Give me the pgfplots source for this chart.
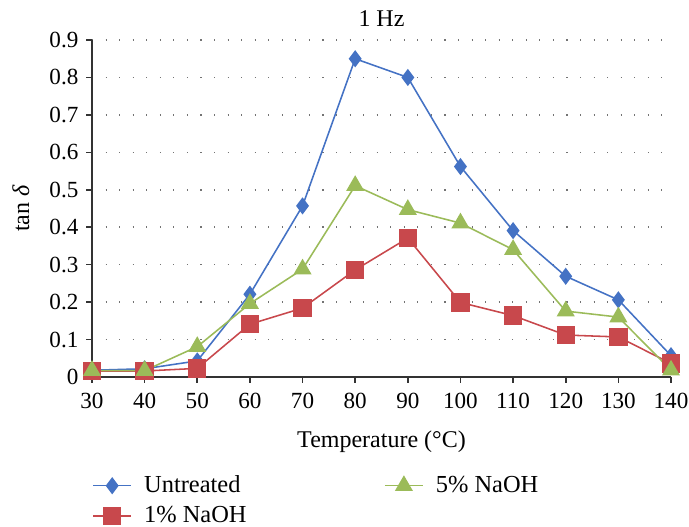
\documentclass[border=0pt]{standalone}
\usepackage{fontspec}
\setmainfont{Liberation Serif}
\usepackage{pgfplots}
\pgfplotsset{compat=1.18}
\definecolor{cBlue}{HTML}{4472C4}
\definecolor{cRed}{HTML}{C8484C}
\definecolor{cGreen}{HTML}{9BBB59}
\begin{document}
\begin{tikzpicture}[x=1pt,y=1pt]
\path[use as bounding box] (-41.4,-67.5) rectangle (268.65,169.65);
\begin{axis}[
  at={(0,0)}, anchor=south west,
  scale only axis, width=260.55pt, height=151.65pt,
  xmin=30, xmax=140, ymin=0, ymax=0.9,
  xtick={30,40,50,60,70,80,90,100,110,120,130,140},
  ytick={0,0.1,0.2,0.3,0.4,0.5,0.6,0.7,0.8,0.9},
  yticklabels={0,0.1,0.2,0.3,0.4,0.5,0.6,0.7,0.8,0.9},
  axis x line*=bottom, axis y line*=left,
  axis line style={line width=0.8pt, color=black!80, -},
  tick align=outside, major tick length=2.6pt,
  tick style={line width=0.7pt, color=black!80},
  ymajorgrids,
  major grid style={line width=0.7pt, color=black!55, dash pattern=on 0.5pt off 5.6pt},
  /pgf/number format/assume math mode=true,
  tick label style={font=\fontsize{10.4}{12}\selectfont},
  xticklabel style={yshift=-1.2pt},
  label style={font=\fontsize{10.8}{12}\selectfont},
  xlabel style={yshift=-2.8pt},
  ylabel style={yshift=2.2pt},
  title style={font=\fontsize{10.8}{12}\selectfont, yshift=-3.6pt},
  title={1 Hz},
  xlabel={Temperature (°C)},
  ylabel={tan \textit{δ}},
  clip=false,
  legend style={draw=none, fill=none, at={(axis description cs:0,-0.278)}, anchor=north west,
    legend columns=2, cells={anchor=west}, font=\fontsize{11}{12}\selectfont,
    row sep=0.6pt, inner sep=0pt},
]
\addplot[cBlue, line width=0.7pt, mark=diamond*, mark size=3.3pt, mark options={solid, fill=cBlue}, forget plot]
coordinates {(30,0.018)(40,0.022)(50,0.043)(60,0.221)(70,0.457)(80,0.850)(90,0.800)(100,0.562)(110,0.391)(120,0.269)(130,0.206)(140,0.057)};
\addplot[cRed, line width=0.7pt, mark=square*, mark size=3.8pt, mark options={solid, fill=cRed}, forget plot]
coordinates {(30,0.016)(40,0.016)(50,0.023)(60,0.141)(70,0.184)(80,0.286)(90,0.371)(100,0.199)(110,0.164)(120,0.112)(130,0.107)(140,0.036)};
\addplot[cGreen, line width=0.7pt, mark=triangle*, mark size=4pt, mark options={solid, fill=cGreen}, forget plot]
coordinates {(30,0.017)(40,0.017)(50,0.081)(60,0.196)(70,0.288)(80,0.511)(90,0.447)(100,0.411)(110,0.340)(120,0.176)(130,0.160)(140,0.018)};
\addlegendimage{cBlue, line width=0.7pt, mark=diamond*, mark size=3.3pt, mark options={solid, fill=cBlue}}
\addlegendentry{\hspace{3.5pt}\makebox[106pt][l]{Untreated}}
\addlegendimage{cGreen, line width=0.7pt, mark=triangle*, mark size=4pt, mark options={solid, fill=cGreen}}
\addlegendentry{\hspace{3.5pt}5\% NaOH}
\addlegendimage{cRed, line width=0.7pt, mark=square*, mark size=3.8pt, mark options={solid, fill=cRed}}
\addlegendentry{\hspace{3.5pt}1\% NaOH}
\end{axis}
\end{tikzpicture}
\end{document}
